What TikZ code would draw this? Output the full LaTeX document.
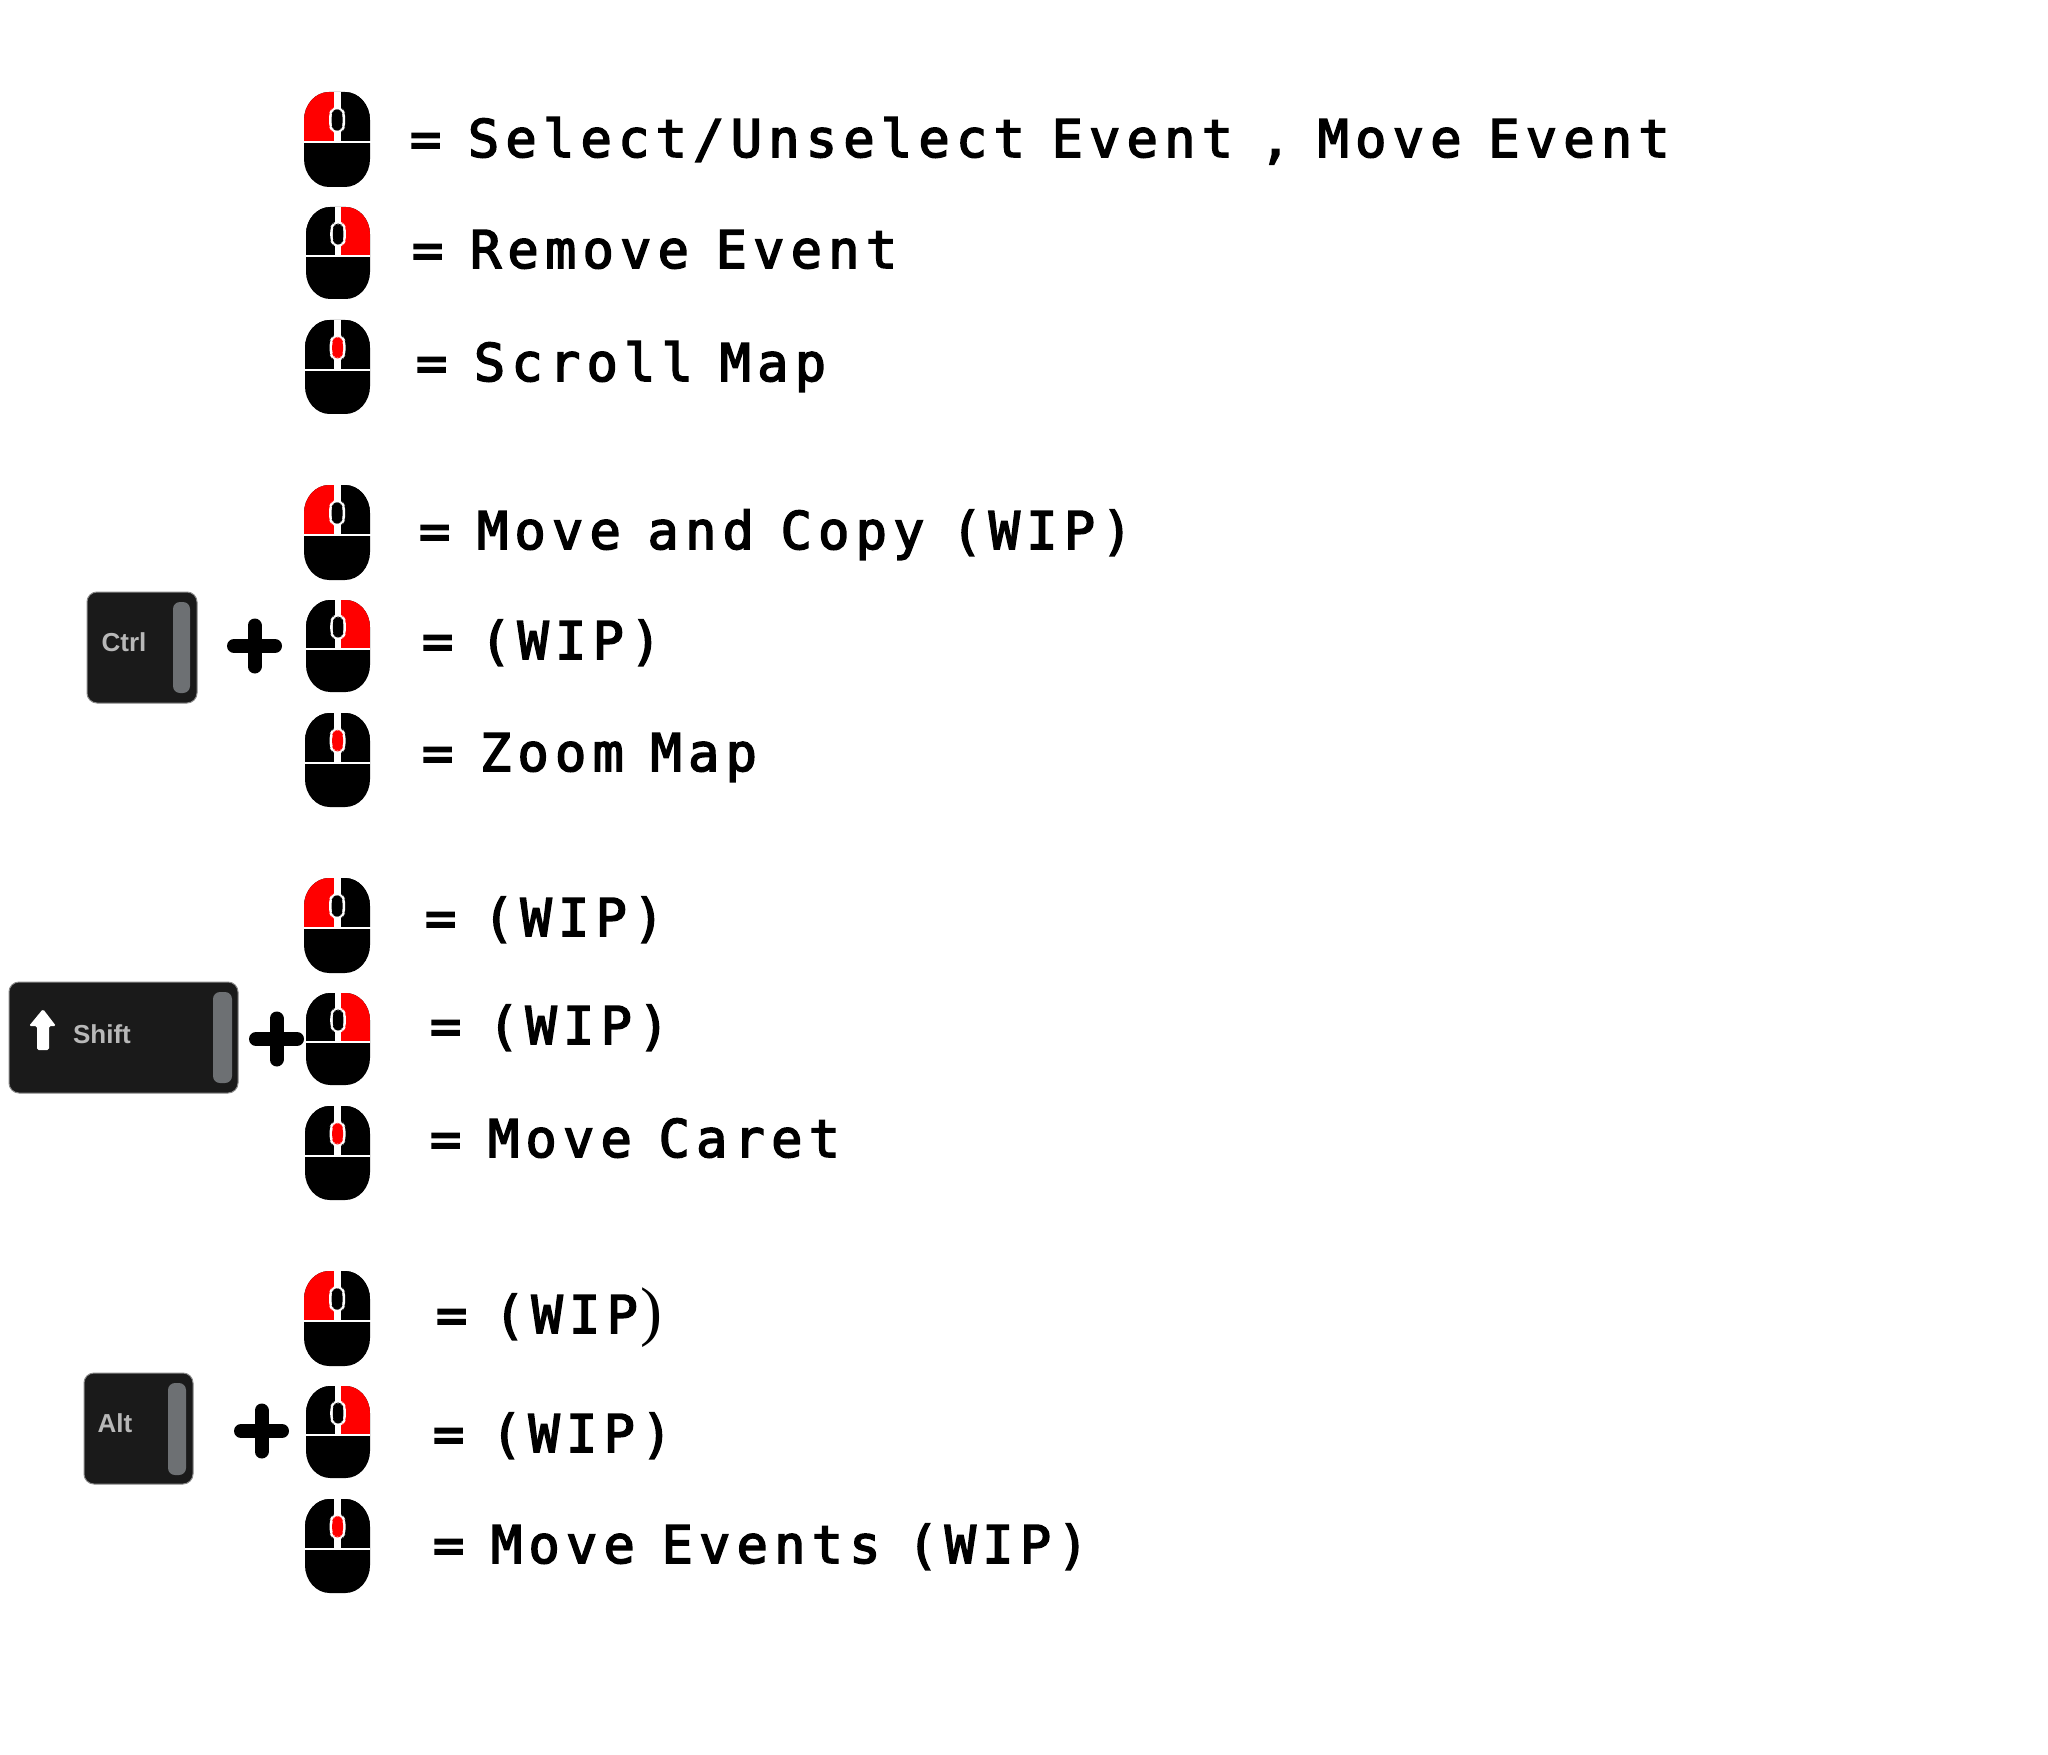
\documentclass[tikz,border=0pt]{standalone}
\usepackage{fontspec}
\setmainfont{Liberation Sans}
\newfontfamily\labfont[FakeBold=3,LetterSpace=12,WordSpace=0.71]{DejaVu Sans Mono}
\newfontfamily\keyfont{Liberation Sans}
\newfontfamily\parenfont{Liberation Serif}
\definecolor{keyfill}{HTML}{1A1A1A}
\definecolor{keybar}{HTML}{6D7073}
\definecolor{keyedge}{HTML}{8A8A8A}
\definecolor{keytext}{HTML}{B8B8B8}
\tikzset{
  actionlabel/.style={anchor=base west,inner sep=0pt,outer sep=0pt,text=black,font=\labfont\fontsize{26}{30}\selectfont},
  keyname/.style={anchor=center,inner sep=0pt,text=keytext,font=\keyfont\bfseries\fontsize{13}{15}\selectfont},
  keycap/.style={fill=keyfill,draw=keyedge,line width=0.5pt,rounded corners=5pt},
  keygroove/.style={fill=keybar,rounded corners=3.5pt},
  plusbar/.style={line width=7pt,line cap=round,draw=black},
  mwhite/.style={fill=white},
}
% #1 x, #2 y, #3 width, #4 height, #5 left fill, #6 right fill, #7 wheel fill
\newcommand{\mousepic}[7]{%
  \begin{scope}[shift={(#1,#2)},xscale=#3/66,yscale=#4/95]
    \path[fill=black] (0,28) .. controls (0,13) and (11,0) .. (25,0) -- (41,0)
      .. controls (55,0) and (66,13) .. (66,28) -- (66,67)
      .. controls (66,82) and (55,95) .. (41,95) -- (25,95)
      .. controls (11,95) and (0,82) .. (0,67) -- cycle;
    \begin{scope}
      \clip (0,28) .. controls (0,13) and (11,0) .. (25,0) -- (41,0)
      .. controls (55,0) and (66,13) .. (66,28) -- (66,50) -- (0,50) -- cycle;
      \fill[#5] (0,0) rectangle (33,50);
      \fill[#6] (33,0) rectangle (66,50);
    \end{scope}
    \fill[mwhite] (-0.5,49.2) rectangle (66.5,51.4);
    \fill[mwhite] (29.6,0) rectangle (36.6,50);
    \fill[mwhite,rounded corners=2.5pt] (33.1,14.5) -- (38.5,16.5) -- (41.2,21) -- (41.2,35) -- (38.5,39.5) -- (33.1,41.5) -- (27.7,39.5) -- (25,35) -- (25,21) -- (27.7,16.5) -- cycle;
    \fill[#7,rounded corners=2pt] (33.1,17) -- (36.8,18.5) -- (38.6,22) -- (38.6,34) -- (36.8,37.5) -- (33.1,39) -- (29.4,37.5) -- (27.6,34) -- (27.6,22) -- (29.4,18.5) -- cycle;
  \end{scope}%
}
\newcommand{\mousegroup}[1]{%
  \mousepic{304}{92+#1}{66}{95}{red}{black}{black}
  \mousepic{306}{207+#1}{64}{92}{black}{red}{black}
  \mousepic{305}{320+#1}{65}{94}{black}{black}{red}
}
\begin{document}
\begin{tikzpicture}[x=0.5pt,y=-0.5pt]
\useasboundingbox (0,0) rectangle (2048,1754);
\fill[white] (0,0) rectangle (2048,1754);

\mousegroup{0}
\mousegroup{393}
\mousegroup{786}
\mousegroup{1179}

% labels
\node[actionlabel] (r1) at (410,157) {= Select/Unselect Event , Move Event};
\node[actionlabel] (r2) at (412,268) {= Remove Event};
\node[actionlabel] (r3) at (416,381) {= Scroll Map};
\node[actionlabel] (r4) at (419,549) {= Move and Copy (WIP)};
\node[actionlabel] (r5) at (422,659) {= (WIP)};
\node[actionlabel] (r6) at (422,771) {= Zoom Map};
\node[actionlabel] (r7) at (425,936) {= (WIP)};
\node[actionlabel] (r8) at (430,1044) {= (WIP)};
\node[actionlabel] (r9) at (430,1157) {= Move Caret};
\node[actionlabel] (r10) at (436,1333) {= (WIP};
\node[anchor=base west,inner sep=0pt,xshift=1pt,font=\parenfont\fontsize{33}{36}\selectfont] (r10p) at (r10.base east) {)};
\node[actionlabel] (r11) at (433,1452) {= (WIP)};
\node[actionlabel] (r12) at (433,1563) {= Move Events (WIP)};

% Ctrl key
\path[keycap] (87,592) rectangle (197,703);
\path[keygroove] (173,602) rectangle (190,693);
\node[keyname] (ctrl) at (124,642) {Ctrl};
\draw[plusbar] (234,646) -- (275,646);
\draw[plusbar] (254.5,625.5) -- (254.5,666.5);

% Shift key
\path[keycap] (9,982) rectangle (238,1093);
\path[keygroove] (213,992) rectangle (232,1083);
\fill[white,rounded corners=0.8pt] (43,1009) -- (56,1026) -- (49,1026) -- (49,1050) -- (37,1050) -- (37,1026) -- (29,1026) -- cycle;
\node[keyname] (shift) at (102,1034) {Shift};
\draw[plusbar] (256,1039) -- (297,1039);
\draw[plusbar] (276.5,1018.5) -- (276.5,1059.5);

% Alt key
\path[keycap] (84,1373) rectangle (193,1484);
\path[keygroove] (168,1383) rectangle (186,1475);
\node[keyname] (alt) at (115,1423) {Alt};
\draw[plusbar] (241,1431) -- (282,1431);
\draw[plusbar] (261.5,1410.5) -- (261.5,1451.5);
\end{tikzpicture}
\end{document}
